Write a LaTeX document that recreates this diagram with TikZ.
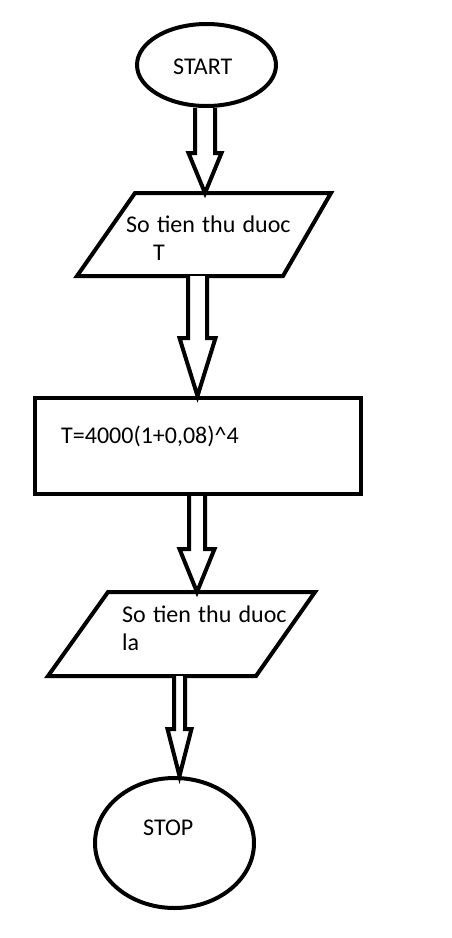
\documentclass[tikz,border=0pt]{standalone}
\usepackage{fontspec}
\setmainfont{Carlito}
\usetikzlibrary{shapes.geometric,calc}
\tikzset{
  shapeline/.style={draw=black, line width=4pt},
  lbl/.style={anchor=base west, inner sep=0pt, font=\fontsize{24}{28}\selectfont,
    execute at begin node={\spaceskip=0.3em\relax}},
  blockarrow/.style={draw=black, line width=4pt, fill=white, line join=miter},
  hidden/.style={inner sep=0pt, outer sep=0pt},
}
\newcommand{\barrow}[6]{% from, to, x, shaft half, head half, head length
  \draw[blockarrow] let \p1=(#1), \p2=(#2) in
    ({#3pt-#4pt},\y1) -- ({#3pt-#4pt},{\y2+#6pt}) -- ({#3pt-#5pt},{\y2+#6pt})
    -- ({#3pt},\y2) -- ({#3pt+#5pt},{\y2+#6pt}) -- ({#3pt+#4pt},{\y2+#6pt})
    -- ({#3pt+#4pt},\y1);
}
\begin{document}
\begin{tikzpicture}[x=1pt,y=-1pt]
\fill[white] (0,0) rectangle (452,938);
\useasboundingbox (0,0) rectangle (452,938);

% shapes
\node[shapeline, ellipse, minimum width=139pt, minimum height=82pt, inner sep=0pt] (start) at (206.5,65) {};
\node[hidden, minimum width=254pt, minimum height=83pt] (in1) at (204,234.5) {};
\draw[shapeline] ($(in1.north west)+(58,0)$) -- (in1.north east) -- ($(in1.south east)+(-48,0)$) -- (in1.south west) -- cycle;
\node[shapeline, rectangle, minimum width=326pt, minimum height=96pt, inner sep=0pt] (rect) at (198,446) {};
\node[hidden, minimum width=267pt, minimum height=84pt] (out) at (181.5,634) {};
\draw[shapeline] ($(out.north west)+(60,0)$) -- (out.north east) -- ($(out.south east)+(-59,0)$) -- (out.south west) -- cycle;
\node[shapeline, ellipse, minimum width=159pt, minimum height=130pt, inner sep=0pt] (stop) at (174.5,843) {};

% block arrows
\barrow{start.south}{in1.north}{205}{10}{16.5}{40}
\barrow{in1.south}{rect.north}{197.5}{9.5}{18}{58}
\barrow{rect.south}{out.north}{197}{8}{17.5}{43}
\barrow{out.south}{stop.north}{179.5}{5.5}{12}{47}

% texts
\node[lbl] (tstart) at (173,74) {START};
\node[lbl] (tin1a) at (126,232) {So tien thu duoc};
\node[lbl] (tin1b) at (153,260) {T};
\node[lbl] (trect) at (61,443) {T=4000(1+0,08)\textasciicircum 4};
\node[lbl] (touta) at (122,622) {So tien thu duoc};
\node[lbl] (toutb) at (122,650) {la};
\node[lbl] (tstop) at (143,835) {STOP};
\end{tikzpicture}
\end{document}
